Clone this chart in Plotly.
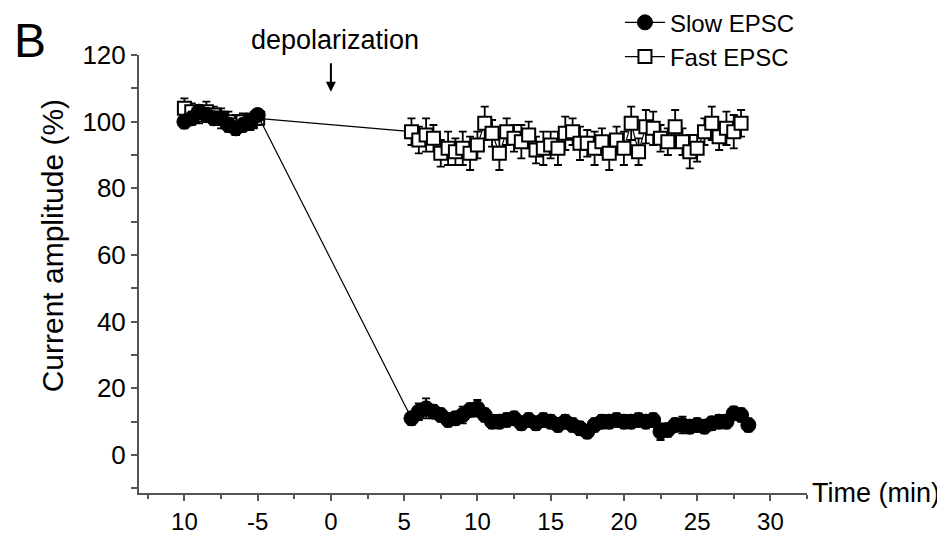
import plotly.graph_objects as go

# ---- data ----
pre_time = [-10, -9.5, -9, -8.5, -8, -7.5, -7, -6.5, -6, -5.5, -5]
slow_pre = [100, 101, 103, 102, 101, 101, 99, 98, 99, 100, 102]
slow_pre_err = [2, 2, 2, 2, 2, 2, 2, 2, 2, 1.5, 1.5]
fast_pre = [104, 103, 102, 103, 102, 101, 100, 99, 100, 100, 101]
fast_pre_err = [3, 2.5, 2.5, 3, 2.5, 3, 3, 3, 2.5, 2.5, 2]

slow_time = [5.5 + 0.5 * i for i in range(47)]
slow_post = [11, 13, 14, 13, 12, 10.5, 11, 12, 13.5, 14, 12, 10, 10, 10.5, 11, 9.5,
             10.5, 9.5, 10.5, 10, 9, 10, 9, 8, 7, 9, 10, 10, 10.5, 10, 10, 10.5,
             10, 10.5, 7, 7.5, 9, 9, 8.5, 9, 8.5, 9.5, 10, 10, 12.5, 12, 9]
slow_post_err = [2, 2.5, 3, 2, 2, 2, 2, 2.5, 2, 2.5, 2, 2, 2, 2, 2, 2,
                 2, 2, 2, 2, 2, 2, 2, 2, 2, 2, 2, 2, 2, 2, 2, 2,
                 2, 2, 2.5, 2, 2, 2.5, 2, 2, 2, 2, 2, 2, 2, 2, 2]

fast_time = [5.5 + 0.5 * i for i in range(46)]
fast_post = [97, 94.5, 96, 95, 90.5, 92, 91, 92, 90.5, 93, 99.5, 96.5, 90.5, 97, 95, 94,
             96, 91.5, 92, 93, 92, 96.5, 97, 93.5, 93.5, 92, 94, 90.5, 94.5, 92, 99.5, 91,
             98.5, 98, 95, 94, 98.5, 94, 91, 92, 97, 99.5, 95.5, 98, 97, 99.5]
fast_post_err = [4, 4, 5, 4, 4, 5, 4, 5, 5, 4, 5, 4, 5, 4, 4, 5,
                 4, 4, 5, 4, 5, 5, 4, 5, 4, 5, 4, 5, 4, 5, 5, 4,
                 5, 5, 4, 4, 5, 4, 5, 4, 4, 5, 4, 5, 5, 4]

x_tickvals = [-10, -5, 0, 5, 10, 15, 20, 25, 30]
x_ticktext = ["10", "-5", "0", "5", "10", "15", "20", "25", "30"]
y_tickvals = [0, 20, 40, 60, 80, 100, 120]

slow_x = pre_time + slow_time
slow_y = slow_pre + slow_post
slow_e = slow_pre_err + slow_post_err
fast_x = pre_time + fast_time
fast_y = fast_pre + fast_post
fast_e = fast_pre_err + fast_post_err

FONT = "Liberation Sans, Arial, sans-serif"

fig = go.Figure()
fig.add_trace(go.Scatter(
    x=fast_x, y=fast_y, mode="lines+markers", name="Fast EPSC",
    line=dict(color="black", width=1.2),
    marker=dict(symbol="square", size=13, color="white", line=dict(color="black", width=2)),
    error_y=dict(type="data", array=fast_e, visible=True, color="black", thickness=1.8, width=4),
))
fig.add_trace(go.Scatter(
    x=slow_x, y=slow_y, mode="lines+markers", name="Slow EPSC",
    line=dict(color="black", width=1.2),
    marker=dict(symbol="circle", size=15, color="black", line=dict(color="black", width=1)),
    error_y=dict(type="data", array=slow_e, visible=True, color="black", thickness=1.8, width=4),
))

# page body adds an 8px offset, so the figure is 8px smaller and margins shifted
fig.update_layout(
    width=937, height=526,
    margin=dict(l=131, r=138, t=47, b=41, autoexpand=False),
    paper_bgcolor="white", plot_bgcolor="white",
    font=dict(family=FONT, size=26, color="black"),
    showlegend=True,
    legend=dict(x=0.72, y=1.125, xanchor="left", yanchor="top",
                font=dict(size=24), traceorder="reversed",
                bgcolor="rgba(0,0,0,0)", tracegroupgap=0, itemwidth=40),
    xaxis=dict(range=[-13.1, 32.5], tickvals=x_tickvals, ticktext=x_ticktext,
               showline=True, linecolor="#555555", linewidth=2,
               ticks="outside", ticklen=6, tickwidth=2, tickcolor="#555555",
               minor=dict(dtick=2.5, tick0=-12.5, ticks="outside", ticklen=4,
                          tickwidth=2, tickcolor="#555555"),
               showgrid=False, zeroline=False,
               tickfont=dict(size=24)),
    yaxis=dict(range=[-11.4, 120], tickvals=y_tickvals,
               showline=True, linecolor="#555555", linewidth=2,
               ticks="outside", ticklen=6, tickwidth=2, tickcolor="#555555",
               minor=dict(dtick=10, tick0=0, ticks="outside", ticklen=6,
                          tickwidth=2, tickcolor="#555555"),
               showgrid=False, zeroline=False,
               tickfont=dict(size=26)),
)

fig.add_annotation(text="Current amplitude (%)", textangle=-90,
                   xref="paper", yref="paper", x=-0.129, y=0.565,
                   xanchor="center", yanchor="middle", showarrow=False,
                   font=dict(size=30))
fig.add_annotation(text="Time (min)", xref="paper", yref="paper", x=1, y=0,
                   xanchor="left", yanchor="middle", xshift=3, showarrow=False,
                   font=dict(size=27))
fig.add_annotation(text="B", xref="paper", yref="paper", x=-0.163, y=1.034,
                   xanchor="center", yanchor="middle", showarrow=False,
                   font=dict(size=48))
fig.add_annotation(text="depolarization", xref="x", yref="paper", x=0.3, y=1.034,
                   xanchor="center", yanchor="middle", showarrow=False,
                   font=dict(size=27))
fig.add_annotation(text="", xref="x", yref="y", x=0, y=109,
                   ax=0, ay=-30, showarrow=True, arrowhead=2, arrowsize=1,
                   arrowwidth=2, arrowcolor="black")

fig.write_html("out.html")
